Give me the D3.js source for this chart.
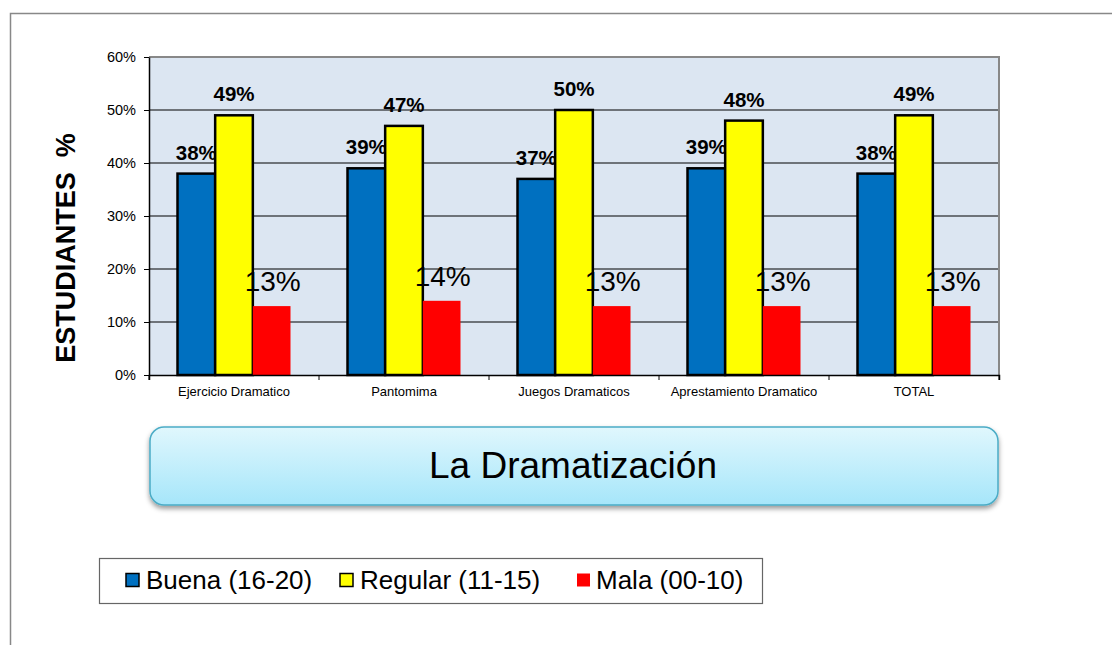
<!DOCTYPE html>
<html>
<head>
<meta charset="utf-8">
<script src="https://cdn.jsdelivr.net/npm/d3@7"></script>
<style>
  body { margin: 0; background: #fff; }
  svg { display: block; font-family: "Liberation Sans", Arial, sans-serif; }
</style>
</head>
<body>
<div id="chart"></div>
<script>
var categories = ["Ejercicio Dramatico", "Pantomima", "Juegos Dramaticos", "Aprestamiento Dramatico", "TOTAL"]
var buena = [38, 39, 37, 39, 38]
var regular = [49, 47, 50, 48, 49]
var mala = [13, 14, 13, 13, 13]
var seriesNames = ["Buena (16-20)", "Regular (11-15)", "Mala (00-10)"]
var yTicks = [0, 10, 20, 30, 40, 50, 60]

var widthSvg = 1112
var heightSvg = 645
var margin = { top: 57, left: 149, right: 113, bottom: 270 }
var widthScale = widthSvg - margin.left - margin.right
var heightScale = heightSvg - margin.top - margin.bottom

var colors = ["#0070c0", "#ffff00", "#ff0000"]
var series = [buena, regular, mala]

var svg = d3.select("#chart").append("svg")
  .attr("width", widthSvg)
  .attr("height", heightSvg)

// outer frame
svg.append("path")
  .attr("d", "M10.5,650 L10.5,13.5 L1120,13.5")
  .attr("fill", "none")
  .attr("stroke", "#888")
  .attr("stroke-width", 1.5)

var mainG = svg.append("g")
  .attr("transform", "translate(" + margin.left + "," + margin.top + ")")

var xScale = d3.scaleBand()
  .domain(categories)
  .range([0, widthScale])

var yScale = d3.scaleLinear()
  .domain([0, 60])
  .range([heightScale, 0])

var groupWidth = 113
var barScale = d3.scaleBand()
  .domain([0, 1, 2])
  .range([(xScale.bandwidth() - groupWidth) / 2, (xScale.bandwidth() + groupWidth) / 2])

// plot background
mainG.append("rect")
  .attr("width", widthScale)
  .attr("height", heightScale)
  .attr("fill", "#dce6f2")

// gridlines
mainG.selectAll(".grid")
  .data(yTicks.slice(1, -1))
  .enter().append("line")
  .attr("x1", 0)
  .attr("x2", widthScale)
  .attr("y1", function(d) { return yScale(d) })
  .attr("y2", function(d) { return yScale(d) })
  .attr("stroke", "#000")
  .attr("stroke-width", 1)

// plot top/right border
mainG.append("path")
  .attr("d", "M0," + yScale(60) + " L" + widthScale + "," + yScale(60) + " L" + widthScale + "," + heightScale)
  .attr("fill", "none")
  .attr("stroke", "#888")
  .attr("stroke-width", 2)

// bars
series.forEach(function(values, s) {
  var g = mainG.append("g").attr("class", "series-" + s)
  g.selectAll("rect")
    .data(values)
    .enter().append("rect")
    .attr("x", function(d, i) { return xScale(categories[i]) + barScale(s) })
    .attr("y", function(d) { return yScale(d) })
    .attr("width", barScale.bandwidth())
    .attr("height", function(d) { return heightScale - yScale(d) })
    .attr("fill", colors[s])
    .attr("stroke", s < 2 ? "#000" : "none")
    .attr("stroke-width", 2.5)

  g.selectAll("text")
    .data(values)
    .enter().append("text")
    .attr("x", function(d, i) {
      var x = xScale(categories[i]) + barScale(s) + barScale.bandwidth() / 2
      return s === 2 ? x + 1 : x
    })
    .attr("y", function(d) { return yScale(d) - (s === 2 ? 15 : 14) })
    .attr("text-anchor", "middle")
    .attr("font-size", s === 2 ? 28 : 20.5)
    .attr("font-weight", s === 2 ? "normal" : "bold")
    .attr("fill", "#000")
    .text(function(d) { return d + "%" })
})

// axes
var xAxis = d3.axisBottom(xScale).tickSize(5).tickSizeOuter(5)
var xG = mainG.append("g")
  .attr("transform", "translate(0," + heightScale + ")")
  .call(xAxis)
xG.select(".domain").attr("stroke", "#000").attr("stroke-width", 1.5)
xG.selectAll(".tick line").remove()
xG.selectAll(".tx")
  .data(d3.range(categories.length + 1))
  .enter().append("line")
  .attr("x1", function(i) { return i * xScale.step() })
  .attr("x2", function(i) { return i * xScale.step() })
  .attr("y1", 0).attr("y2", 5)
  .attr("stroke", "#000")
xG.selectAll(".tick text")
  .attr("font-size", 13)
  .attr("font-family", "Liberation Sans, Arial, sans-serif")
  .attr("fill", "#000")
  .attr("dy", "1em")

var yAxis = d3.axisLeft(yScale)
  .tickValues(yTicks)
  .tickSize(5)
  .tickSizeOuter(0)
  .tickFormat(function(d) { return d + "%" })
var yG = mainG.append("g").call(yAxis)
yG.select(".domain").attr("stroke", "#000").attr("stroke-width", 1.5)
yG.selectAll(".tick line").attr("stroke", "#000")
yG.selectAll(".tick text")
  .attr("font-size", 14.5)
  .attr("font-family", "Liberation Sans, Arial, sans-serif")
  .attr("fill", "#000")
  .attr("x", -13)

// y-axis title
svg.append("text")
  .attr("transform", "translate(75,248) rotate(-90)")
  .attr("text-anchor", "middle")
  .attr("font-size", 27)
  .attr("font-weight", "bold")
  .attr("xml:space", "preserve")
  .style("white-space", "pre")
  .text("ESTUDIANTES  %")

// title box
var defs = svg.append("defs")
var grad = defs.append("linearGradient")
  .attr("id", "titleGrad")
  .attr("x1", 0).attr("y1", 0).attr("x2", 0).attr("y2", 1)
grad.append("stop").attr("offset", "0%").attr("stop-color", "#e0f7fd")
grad.append("stop").attr("offset", "100%").attr("stop-color", "#a6e6fa")
var shadow = defs.append("filter").attr("id", "shadow")
  .attr("x", "-5%").attr("y", "-20%").attr("width", "110%").attr("height", "150%")
shadow.append("feDropShadow")
  .attr("dx", 0).attr("dy", 3).attr("stdDeviation", 2.5)
  .attr("flood-color", "#000").attr("flood-opacity", 0.4)

svg.append("rect")
  .attr("x", 150)
  .attr("y", 427)
  .attr("width", 848)
  .attr("height", 78)
  .attr("rx", 14)
  .attr("fill", "url(#titleGrad)")
  .attr("stroke", "#4bacc6")
  .attr("stroke-width", 1.5)
  .attr("filter", "url(#shadow)")

svg.append("text")
  .attr("x", 573)
  .attr("y", 478)
  .attr("text-anchor", "middle")
  .attr("font-size", 37)
  .attr("fill", "#000")
  .text("La Dramatización")

// legend
var legend = svg.append("g")
legend.append("rect")
  .attr("x", 99.5)
  .attr("y", 558.5)
  .attr("width", 663)
  .attr("height", 45)
  .attr("fill", "#fff")
  .attr("stroke", "#666")
  .attr("stroke-width", 1.2)

var legendX = [126, 340, 577]
seriesNames.forEach(function(name, i) {
  legend.append("rect")
    .attr("x", legendX[i])
    .attr("y", 573.5)
    .attr("width", 13)
    .attr("height", 13)
    .attr("fill", colors[i])
    .attr("stroke", i < 2 ? "#000" : "none")
    .attr("stroke-width", 1.5)
  legend.append("text")
    .attr("x", legendX[i] + (i === 2 ? 19 : 20))
    .attr("y", 589)
    .attr("font-size", 26)
    .attr("fill", "#000")
    .text(name)
})
</script>
</body>
</html>
